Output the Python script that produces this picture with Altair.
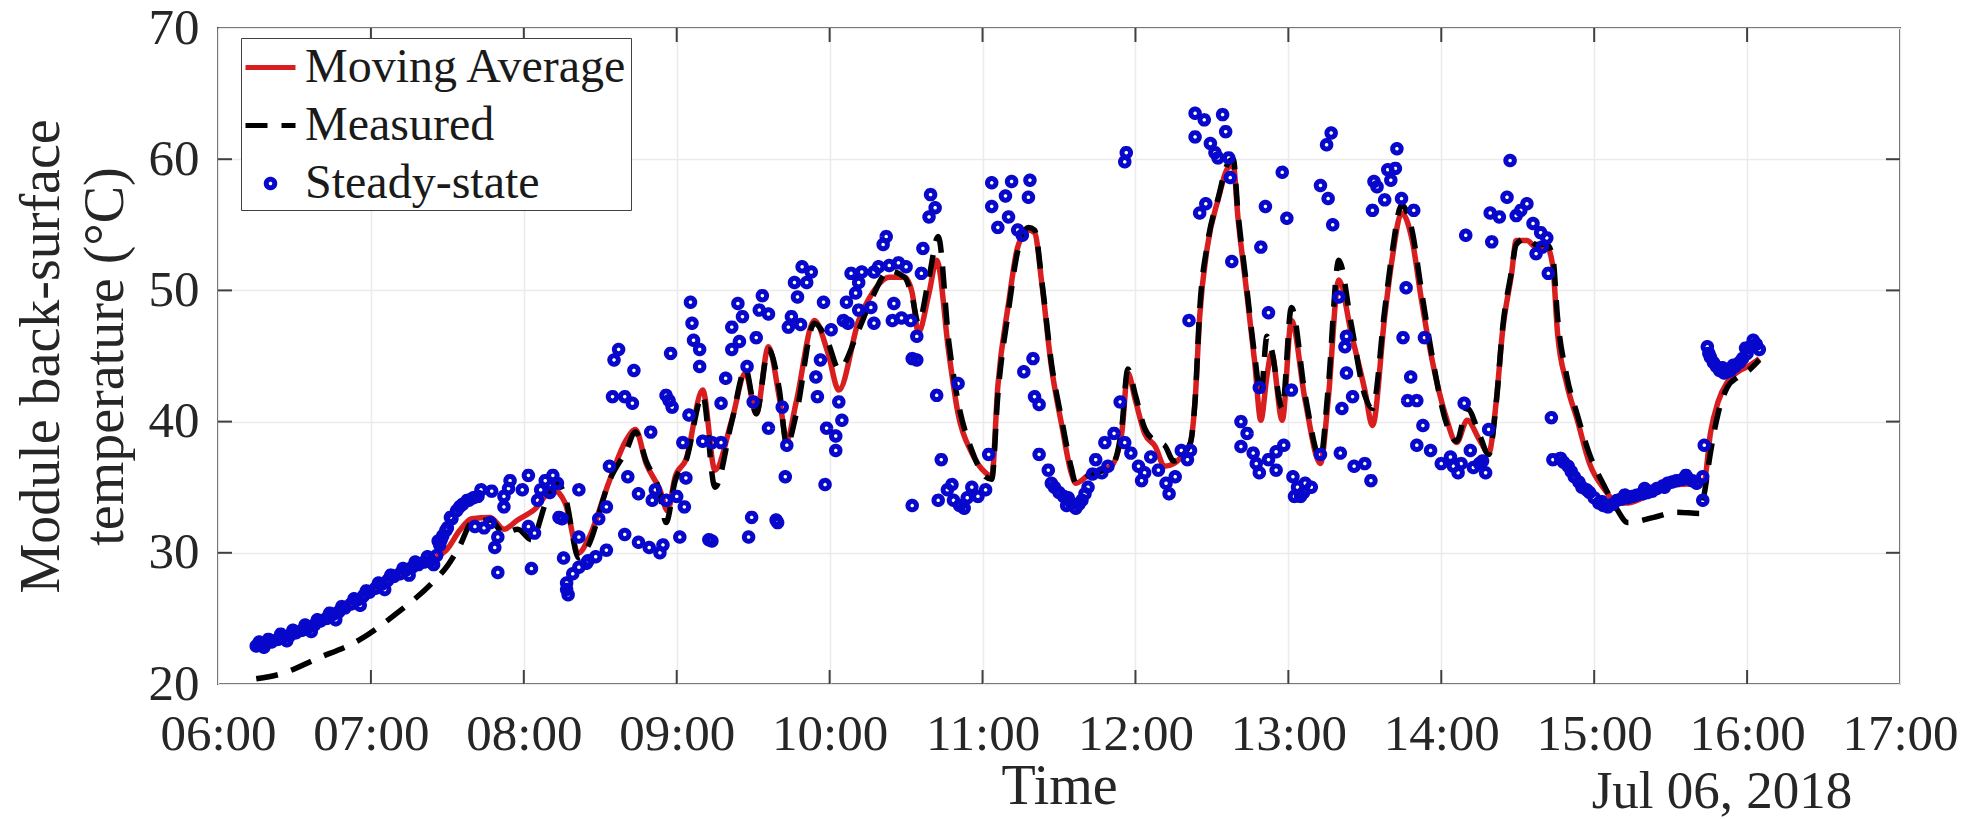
import altair as alt
import pandas as pd

# ---------------- data ----------------
series_names = ["Moving Average", "Measured", "Steady-state"]
series_colors = ["#d81e1e", "#000000", "#0808cc"]

ma_hours = [6.25, 6.40, 6.55, 6.70, 6.85, 7.00, 7.15, 7.30, 7.40, 7.50, 7.58, 7.66, 7.78, 7.87, 7.96,
            8.07, 8.19, 8.27, 8.36, 8.42, 8.56, 8.67, 8.73, 8.80, 8.89, 8.94, 8.99, 9.06, 9.17, 9.25,
            9.36, 9.45, 9.52, 9.60, 9.67, 9.72, 9.78, 9.90, 9.99, 10.06, 10.19, 10.28, 10.39, 10.49,
            10.54, 10.58, 10.65, 10.70, 10.78, 10.84, 10.93, 11.02, 11.06, 11.10, 11.17, 11.23, 11.30,
            11.34, 11.39, 11.45, 11.52, 11.58, 11.61, 11.71, 11.84, 11.91, 11.95, 12.00, 12.06, 12.13,
            12.19, 12.25, 12.32, 12.36, 12.39, 12.42, 12.47, 12.54, 12.61, 12.64, 12.67, 12.72, 12.78,
            12.82, 12.86, 12.89, 12.96, 13.02, 13.11, 13.21, 13.26, 13.33, 13.41, 13.50, 13.55, 13.63,
            13.68, 13.74, 13.81, 13.87, 13.94, 14.03, 14.10, 14.17, 14.25, 14.31, 14.36, 14.40, 14.46,
            14.49, 14.56, 14.62, 14.69, 14.73, 14.76, 14.82, 14.89, 14.97, 15.07, 15.15, 15.22, 15.39,
            15.54, 15.69, 15.72, 15.76, 15.81, 15.87, 15.94, 16.02, 16.08]
ma_temp = [22.9, 23.4, 24.1, 24.9, 25.9, 27.0, 28.2, 29.1, 29.5, 30.3, 31.7, 32.6, 32.7, 31.8, 32.5,
           33.3, 34.8, 33.8, 30.0, 31.0, 35.5, 38.6, 39.4, 36.8, 34.8, 33.2, 35.8, 37.1, 42.4, 36.3,
           40.1, 43.7, 40.6, 45.7, 41.9, 38.6, 41.4, 47.7, 45.2, 42.4, 47.7, 49.8, 51.0, 51.0,
           49.8, 46.8, 49.8, 52.3, 45.2, 40.6, 37.6, 36.1, 35.8, 42.7, 49.0, 53.3, 54.6,
           54.4, 50.3, 44.2, 39.6, 36.1, 35.3, 36.1, 36.6, 39.1, 43.7, 41.6, 39.1, 38.1,
           36.6, 36.8, 37.6, 38.4, 41.6, 48.0, 53.3, 56.9, 59.4, 59.5, 55.6, 50.6, 44.5,
           40.1, 43.5, 45.2, 40.1, 47.7, 41.6, 36.8, 41.6, 50.8, 46.8, 42.4, 39.7, 48.0,
           52.5, 55.9, 53.8, 49.3, 44.7, 40.4, 38.4, 40.1, 38.6, 37.6, 41.6, 46.8, 51.3,
           53.8, 53.8, 53.3, 53.3, 51.8, 46.8, 42.9, 40.1, 36.8, 34.8, 33.8, 33.8, 34.6,
           35.2, 35.3, 35.5, 39.1, 41.5, 43.0, 43.8, 44.3, 44.8]

meas_hours = [6.25, 6.42, 6.64, 6.93, 7.17, 7.40, 7.50, 7.58, 7.66, 7.78, 7.87, 7.96, 8.05, 8.15, 8.22,
              8.27, 8.36, 8.42, 8.56, 8.67, 8.73, 8.80, 8.89, 8.93, 8.99, 9.06, 9.17, 9.25, 9.36, 9.45,
              9.52, 9.60, 9.67, 9.72, 9.78, 9.90, 9.99, 10.06, 10.19, 10.28, 10.39, 10.49, 10.54, 10.58,
              10.65, 10.71, 10.78, 10.84, 10.93, 11.02, 11.06, 11.10, 11.17, 11.23, 11.30, 11.34, 11.39,
              11.45, 11.52, 11.58, 11.61, 11.71, 11.84, 11.91, 11.95, 12.00, 12.06, 12.13, 12.19, 12.25,
              12.32, 12.36, 12.39, 12.42, 12.47, 12.54, 12.61, 12.64, 12.67, 12.72, 12.78, 12.82, 12.86,
              12.89, 12.96, 13.02, 13.11, 13.21, 13.26, 13.33, 13.41, 13.50, 13.55, 13.63, 13.68, 13.74,
              13.81, 13.87, 13.94, 14.03, 14.10, 14.17, 14.25, 14.31, 14.36, 14.40, 14.46, 14.49, 14.56,
              14.62, 14.69, 14.73, 14.76, 14.82, 14.89, 14.97, 15.07, 15.15, 15.22, 15.39, 15.54, 15.69,
              15.72, 15.76, 15.81, 15.87, 15.94, 16.02, 16.08]
meas_temp = [20.4, 20.8, 21.9, 23.4, 25.4, 27.7, 29.0, 30.5, 32.3, 32.5, 31.5, 31.8, 31.0, 34.0, 35.3,
             34.3, 29.6, 30.5, 35.5, 37.8, 39.2, 37.0, 34.5, 32.3, 35.5, 37.0, 42.0, 35.0, 40.0, 44.0,
             40.6, 45.5, 42.5, 38.2, 40.5, 47.5, 46.0, 44.0, 47.0, 49.5, 51.5, 51.0, 49.5, 47.5,
             51.0, 54.1, 46.0, 41.5, 37.8, 35.8, 35.6, 42.0, 48.5, 53.0, 54.8, 54.6, 50.5,
             44.5, 40.0, 36.5, 35.3, 36.0, 36.5, 39.5, 44.0, 42.0, 39.5, 38.5, 38.2, 37.0,
             37.6, 38.4, 41.6, 48.5, 53.5, 57.0, 59.8, 60.0, 56.0, 51.0, 45.0, 42.0, 46.5,
             45.5, 41.0, 48.7, 42.0, 37.2, 42.5, 52.3, 47.5, 42.0, 41.0, 48.5, 53.0, 56.5,
             54.5, 50.0, 45.0, 40.0, 38.5, 41.0, 39.0, 37.5, 41.5, 47.0, 51.5, 53.5, 54.0,
             53.5, 53.5, 52.5, 48.0, 43.5, 40.5, 37.5, 35.0, 33.3, 32.3, 32.7, 33.1, 33.0,
             34.5, 37.6, 40.6, 42.6, 43.4, 44.0, 44.7]

ss_hours = [6.25, 6.28, 6.31, 6.35, 6.39, 6.43, 6.47, 6.51, 6.55, 6.59, 6.63, 6.67, 6.71, 6.75, 6.79,
            6.83, 6.87, 6.91, 6.95, 6.99, 7.03, 7.07, 7.11, 7.15, 7.19, 7.23, 7.27, 7.31, 7.35, 7.39,
            7.43, 7.45, 7.47, 7.50, 7.53, 7.56, 7.60, 7.63, 7.67,
            6.27, 6.33, 6.41, 6.49, 6.57, 6.65, 6.73, 6.81, 6.89, 6.97, 7.05, 7.13, 7.21, 7.29, 7.37,
            7.44, 6.30, 6.45, 6.61, 6.77, 6.93, 7.09, 7.25, 7.41,
            7.46, 7.49, 7.52, 7.58, 7.64, 7.70, 7.72, 7.79, 7.87, 7.91, 7.90, 7.68, 7.74, 7.78, 7.83,
            7.87, 7.81, 7.83, 8.03, 7.99, 8.03, 8.07, 8.05, 8.09, 8.11, 8.14, 8.19, 8.22, 8.17, 8.25,
            8.36, 8.36, 8.26, 8.28, 8.29, 8.32, 8.36, 8.42, 8.47, 8.28, 8.41, 8.54, 8.23, 8.49, 8.54,
            8.56, 8.68, 8.62, 8.59, 8.72, 8.58, 8.66, 8.71, 8.83, 8.66, 8.75, 8.82, 8.89, 8.91, 9.02,
            8.75, 8.84, 8.93, 9.00, 9.05, 8.86, 8.95, 8.97, 8.93, 8.96, 9.09, 9.10, 9.11, 9.15, 9.15,
            9.08, 9.04, 9.17, 9.23, 9.29, 9.29, 9.32, 9.36, 9.40, 9.43, 9.36, 9.41, 9.46, 9.52, 9.56,
            9.54, 9.60, 9.50, 9.60, 9.21, 9.23, 9.49, 9.47, 9.65, 9.66, 9.06, 9.69, 9.72, 9.71,
            9.77, 9.82, 9.88, 9.79, 9.85, 9.75, 9.73, 9.81, 9.96, 10.01, 9.94, 9.91, 9.92, 10.06, 10.08,
            9.98, 10.04, 10.04, 9.97, 10.09, 10.12, 10.11, 10.14, 10.19, 10.21, 10.17, 10.29, 10.32,
            10.37, 10.35, 10.39, 10.45, 10.50, 10.19, 10.27, 10.29, 10.42, 10.41, 10.47, 10.53, 10.60,
            10.61, 10.65, 10.66, 10.69, 10.57, 10.54, 10.57, 10.70, 10.84, 10.73, 10.54, 10.71, 10.77,
            10.81, 10.88, 10.93, 10.97, 11.02, 11.04, 10.85, 10.90, 10.80, 11.06, 11.19, 11.31, 11.06,
            11.15, 11.10, 11.17, 11.23, 11.30, 11.26, 11.33, 11.27, 11.34, 11.37, 11.37, 11.43, 11.45,
            11.50, 11.56, 11.61, 11.65, 11.69, 11.74, 11.78, 11.82, 11.80, 11.86, 11.90, 11.93, 11.93,
            11.94, 11.97, 12.02, 12.06, 12.04, 12.10, 12.15, 12.20, 12.22, 12.26, 12.30, 12.34, 12.36,
            11.47, 11.53, 11.58, 11.63, 11.67, 11.72, 11.55,
            12.35, 12.42, 12.46, 12.39, 12.45, 12.39, 12.49, 12.52, 12.57, 12.59, 12.54, 12.61, 12.62,
            12.63, 12.82, 12.96, 12.85, 12.99, 12.87, 12.81, 13.02, 12.69, 12.73, 12.69, 12.77, 12.79,
            12.81, 12.87, 12.92, 12.97, 12.92, 13.03, 13.04, 13.28, 13.25, 13.21, 13.26, 13.29, 13.33,
            13.38, 13.37, 13.38, 13.42, 13.35, 13.11, 13.15, 13.08, 13.06, 13.10, 13.21, 13.34, 13.43,
            13.50, 13.54, 13.56, 13.58, 13.65, 13.67, 13.71, 13.70, 13.55, 13.63, 13.74, 13.82, 13.77,
            13.75, 13.80, 13.78, 13.84, 13.89, 13.88, 13.84, 13.93, 14.00, 14.06, 14.11, 14.15, 14.19,
            14.25, 14.29, 14.31, 14.08, 14.13, 14.21, 14.27, 14.16, 14.32, 14.33, 14.38, 14.43, 14.45,
            14.49, 14.52, 14.56, 14.60, 14.66, 14.69, 14.62, 14.70, 14.65, 14.72, 14.73, 14.78, 14.83,
            14.87, 14.92, 14.97, 15.03, 15.09, 15.15, 15.22, 15.28, 15.35, 15.41, 15.48, 15.54, 15.61,
            15.67, 15.71, 15.71, 15.72, 14.80, 14.85, 14.90, 14.95, 15.00, 15.06, 15.12, 15.18, 15.25,
            15.32, 15.38, 15.45, 15.51, 15.58, 15.64, 15.74, 15.76, 15.78, 15.80, 15.82, 15.85, 15.87,
            15.89, 15.92, 15.95, 15.97, 16.00, 16.02, 16.04, 16.06, 16.08,
            15.05, 15.20, 15.33, 15.46, 15.60, 15.75, 15.84, 15.91, 15.99]
ss_temp = [22.9, 23.0, 23.1, 23.2, 23.4, 23.6, 23.7, 23.9, 24.1, 24.3, 24.5, 24.8, 25.0, 25.3, 25.5,
           25.8, 26.1, 26.4, 26.7, 27.0, 27.3, 27.6, 27.9, 28.2, 28.4, 28.7, 28.9, 29.1, 29.3, 29.4,
           29.8, 30.6, 31.3, 31.9, 32.6, 33.2, 33.7, 34.0, 34.2,
           23.2, 23.4, 23.8, 24.1, 24.5, 24.9, 25.4, 25.9, 26.5, 27.1, 27.7, 28.3, 28.8, 29.3, 29.7,
           30.9, 22.8, 23.3, 24.0, 24.9, 26.0, 27.2, 28.3, 29.1,
           31.0, 31.7, 32.7, 33.5, 34.0, 34.3, 34.8, 34.7, 34.3, 35.5, 34.9, 32.0, 31.9, 32.3, 31.2,
           33.5, 30.4, 28.5, 35.9, 34.8, 32.0, 31.5, 28.8, 34.0, 34.8, 35.5, 35.9, 35.3, 34.6, 32.6,
           34.8, 31.2, 29.6, 27.7, 26.8, 28.4, 28.9, 29.4, 29.7, 27.2, 29.2, 30.2, 32.7, 32.6, 33.5,
           36.6, 35.8, 45.5, 44.7, 43.9, 41.9, 41.9, 41.4, 39.2, 31.4, 30.8, 30.4, 30.0, 30.6, 31.2,
           34.5, 34.0, 34.0, 34.3, 33.5, 34.8, 41.6, 41.1, 42.0, 45.2, 49.1, 47.5, 46.2, 45.5, 44.2,
           40.5, 38.4, 38.5, 38.4, 38.4, 41.4, 43.3, 45.5, 49.0, 48.0, 47.2, 46.1, 44.2, 46.4, 49.6,
           48.5, 48.2, 41.5, 39.5, 31.0, 30.9, 32.7, 31.2, 32.5, 32.3, 35.7, 41.1, 38.2, 35.8,
           50.6, 51.8, 51.4, 49.5, 50.6, 48.0, 47.2, 47.4, 49.1, 47.0, 44.7, 43.4, 41.9, 41.5, 40.1,
           39.5, 38.9, 37.8, 35.2, 47.7, 47.5, 49.1, 51.3, 50.6, 51.4, 49.8, 51.4, 51.8,
           54.1, 53.5, 51.9, 52.1, 51.8, 48.5, 48.7, 47.5, 49.0, 47.7, 47.9, 47.7, 51.3,
           53.2, 55.6, 57.3, 56.3, 46.5, 44.8, 44.7, 42.0, 42.9, 37.1, 33.6, 34.0, 34.8,
           34.0, 33.4, 35.0, 34.3, 34.8, 37.5, 33.6, 34.2, 35.2, 58.2, 58.3, 58.4, 56.4,
           57.2, 54.8, 55.6, 54.6, 57.1, 54.2, 44.8, 43.8, 41.9, 41.3, 37.5, 36.3, 35.3,
           34.6, 34.2, 33.4, 34.0, 35.0, 37.1, 36.1, 36.6, 38.4, 39.1, 41.5, 38.4, 59.8,
           60.5, 37.6, 36.6, 36.1, 35.5, 37.3, 36.3, 35.3, 34.5, 35.8, 37.8, 37.1, 37.8,
           35.0, 34.3, 33.8, 33.7, 34.5, 36.0, 33.6,
           47.7, 55.9, 56.6, 63.5, 63.0, 61.7, 61.2, 60.5, 63.4, 62.1, 60.1, 60.1, 58.6,
           52.2, 53.3, 59.0, 56.4, 55.5, 48.3, 42.6, 42.4, 40.0, 39.1, 38.1, 37.6, 36.8,
           36.1, 37.1, 37.7, 38.2, 36.3, 35.8, 34.3, 62.0, 61.1, 58.0, 57.0, 55.0, 49.5,
           46.5, 45.7, 43.7, 41.9, 41.0, 35.3, 35.0, 34.3, 35.0, 34.6, 37.5, 37.6, 36.6,
           36.8, 35.5, 58.3, 57.9, 59.2, 58.4, 60.8, 59.3, 56.1, 56.9, 57.0, 56.1, 50.2,
           46.4, 43.4, 41.6, 41.6, 46.4, 39.7, 38.2, 37.8, 36.8, 37.3, 36.1, 41.4, 37.8,
           36.8, 36.1, 39.4, 36.6, 36.8, 36.5, 37.0, 54.2, 55.9, 53.7, 55.6, 57.1, 59.9,
           55.7, 56.1, 56.6, 55.1, 53.3, 54.0, 52.8, 51.3, 54.4, 40.3, 37.1, 37.2, 36.6,
           35.8, 35.0, 34.6, 33.8, 33.5, 34.0, 34.2, 34.4, 34.6, 34.9, 35.3, 35.5, 35.7,
           35.3, 34.0, 35.8, 38.2, 36.9, 36.2, 35.4, 34.8, 34.2, 33.6, 33.7, 34.1, 34.3,
           34.5, 34.7, 35.1, 35.4, 35.6, 35.5, 45.7, 44.9, 44.5, 44.2, 43.9, 43.7, 43.8,
           43.9, 44.2, 44.5, 44.8, 45.2, 45.7, 46.2, 45.9, 45.5,
           33.9, 34.4, 34.9, 35.0, 35.9, 45.2, 44.1, 44.3, 45.6]

x_tick_hours = list(range(6, 18))
x_inner_tick_hours = list(range(7, 17))
y_tick_values = [20, 30, 40, 50, 60, 70]
y_inner_tick_values = [30, 40, 50, 60]

# ---------------- helpers ----------------
BASE = pd.Timestamp("2018-07-06")


def to_time(hours):
    return [BASE + pd.Timedelta(hours=h) for h in hours]


def dt(h):
    return alt.DateTime(year=2018, month=7, date=6, hours=h)


FONT = "Liberation Serif"
TXT = "#262626"
W, H = 1682, 656

ma_df = pd.DataFrame({"time": to_time(ma_hours), "temp": ma_temp})
meas_df = pd.DataFrame({"time": to_time(meas_hours), "temp": meas_temp})
ss_df = pd.DataFrame({"time": to_time(ss_hours), "temp": ss_temp, "series": series_names[2]})
xt_df = pd.DataFrame({"time": to_time(x_inner_tick_hours)})
yt_df = pd.DataFrame({"temp": y_inner_tick_values})

x_scale = alt.Scale(domain=[dt(6), dt(17)])
y_scale = alt.Scale(domain=[20, 70], nice=False, zero=False)

x_axis = alt.Axis(values=[dt(h) for h in x_tick_hours], format="%H:%M", title="Time",
                  grid=True, ticks=False, tickSize=0, domain=False, labelPadding=25,
                  labelFlush=False, labelOverlap=False, titlePadding=0,
                  labelFont=FONT, titleFont=FONT, labelFontSize=51, titleFontSize=56)
y_axis = alt.Axis(values=y_tick_values, title=["Module back-surface", "temperature (°C)"],
                  grid=True, ticks=False, tickSize=0, domain=False, labelPadding=19,
                  titlePadding=14, titleLineHeight=64,
                  labelFont=FONT, titleFont=FONT, labelFontSize=51, titleFontSize=56)

X = alt.X("time:T", scale=x_scale, axis=x_axis)
Y = alt.Y("temp:Q", scale=y_scale, axis=y_axis)

color_scale = alt.Scale(domain=series_names, range=series_colors)
dash_scale = alt.Scale(domain=series_names, range=[[1, 0], [22, 14], [1, 0]])
CIRCLE = "M0.17,0A0.17,0.17,0,1,1,-0.17,0A0.17,0.17,0,1,1,0.17,0Z"
shape_scale = alt.Scale(domain=series_names, range=["stroke", "stroke", CIRCLE])

ma_line = alt.Chart(ma_df).mark_line(
    strokeWidth=5.5, interpolate="monotone", color=series_colors[0]
).encode(x=X, y=Y)
meas_line = alt.Chart(meas_df).mark_line(
    strokeWidth=5.5, interpolate="monotone", color=series_colors[1], strokeDash=[22, 14]
).encode(x=X, y=Y)
points = alt.Chart(ss_df).mark_point(filled=False, size=2500, strokeWidth=5, opacity=1).encode(
    x=X, y=Y,
    color=alt.Color("series:N", scale=color_scale, title=None),
    shape=alt.Shape("series:N", scale=shape_scale, title=None),
    strokeDash=alt.StrokeDash("series:N", scale=dash_scale, title=None),
)

tick_style = dict(color="#404040", strokeWidth=2)
xt_bottom = alt.Chart(xt_df).mark_rule(**tick_style).encode(
    x=X, y=alt.value(H), y2=alt.value(H - 14))
xt_top = alt.Chart(xt_df).mark_rule(**tick_style).encode(
    x=X, y=alt.value(0), y2=alt.value(14))
yt_left = alt.Chart(yt_df).mark_rule(**tick_style).encode(
    y=Y, x=alt.value(0), x2=alt.value(14))
yt_right = alt.Chart(yt_df).mark_rule(**tick_style).encode(
    y=Y, x=alt.value(W), x2=alt.value(W - 14))

date_label = alt.Chart(pd.DataFrame({"t": ["Jul 06, 2018"]})).mark_text(
    font=FONT, fontSize=53, color=TXT, align="center", baseline="top"
).encode(text="t:N", x=alt.value(1504), y=alt.value(738))

chart = alt.layer(
    ma_line, meas_line, points, xt_bottom, xt_top, yt_left, yt_right, date_label
).properties(
    width=W, height=H,
    padding={"left": 218, "top": 28, "right": 62, "bottom": 135},
    autosize=alt.AutoSizeParams(type="none"),
    background="white",
).configure(
    font=FONT
).configure_view(
    stroke="#505050", strokeWidth=2
).configure_axis(
    labelFont=FONT, labelFontSize=51, labelColor=TXT,
    titleFont=FONT, titleFontSize=56, titleColor=TXT, titleFontWeight="normal",
    gridColor="#ebebeb", gridWidth=1.5,
).configure_legend(
    orient="none", legendX=23, legendY=10,
    strokeColor="#404040", fillColor="white", padding=2, rowPadding=6,
    labelFont=FONT, labelFontSize=48, labelColor="#1a1a1a", labelOffset=7, labelLimit=800,
    symbolSize=2500, symbolStrokeWidth=5, cornerRadius=0,
)

chart.save("out.html", embed_options={"renderer": "svg", "actions": False})
